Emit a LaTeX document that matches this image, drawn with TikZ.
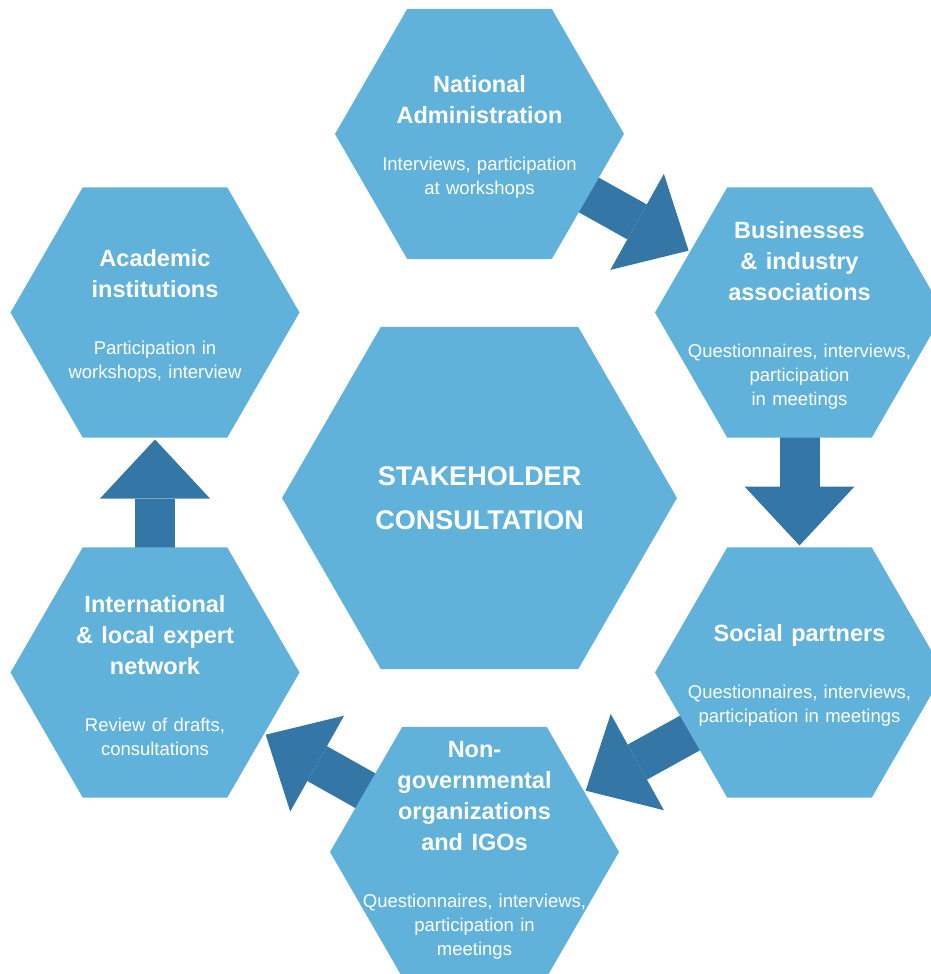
\documentclass[tikz,border=0pt]{standalone}
\usepackage{fontspec}
\setmainfont{Liberation Sans}
\usetikzlibrary{shapes.geometric,arrows.meta,backgrounds}
\definecolor{hexblue}{RGB}{97,178,218}
\definecolor{arrowblue}{RGB}{52,118,166}
\newcommand{\hd}{\fontsize{23.5}{31}\selectfont\bfseries\spaceskip=.36em}
\newcommand{\bd}[2][33pt]{\par\vskip#1\fontsize{18.5}{24}\selectfont\mdseries\spaceskip=.34em #2\par}
\tikzset{
	hex/.style={regular polygon,regular polygon sides=6,fill=hexblue,minimum size=289pt,inner sep=0pt,outer sep=0pt},
	txt/.style={text=white,align=center,text width=260pt,inner sep=0pt},
	lbl/.style={txt,yshift=-3pt},
	flow/.style={arrowblue,line width=40pt,-{Triangle[length=59pt,width=110pt,line width=0pt]},shorten >=127pt}
}
\begin{document}
\begin{tikzpicture}[x=1pt,y=-1pt]
		\useasboundingbox (0,0) rectangle (931,974);
		\clip (0,0) rectangle (931,974);
		\node[hex] (nat) at (479.5,134) {};
		\node[hex] (bus) at (799.5,312.5) {};
		\node[hex] (soc) at (799.5,672.5) {};
		\node[hex] (ngo) at (474.5,852) {};
		\node[hex] (exp) at (155,672.5) {};
		\node[hex] (acad) at (155,312.5) {};
		\node[hex,minimum size=395pt] (core) at (479.5,498) {};
		\node[txt,font=\fontsize{27}{44}\selectfont\bfseries] (core-t) at (core.center) {STAKEHOLDER\\CONSULTATION\par};
		\node[lbl] (nat-t) at (nat.center) {\hd National\\Administration\bd[23pt]{Interviews, participation\\at workshops}};
		\node[lbl] (bus-t) at (bus.center) {\hd Businesses\\\& industry\\associations\bd{Questionnaires, interviews,\\participation\\in meetings}};
		\node[lbl] (soc-t) at (soc.center) {\hd Social partners\bd{Questionnaires, interviews,\\participation in meetings}};
		\node[lbl] (ngo-t) at ([yshift=4.5pt]ngo.center) {\hd Non-\\governmental\\organizations\\and IGOs\bd{Questionnaires, interviews,\\participation in\\meetings}};
		\node[lbl] (exp-t) at (exp.center) {\hd International\\\& local expert\\network\bd{Review of drafts,\\consultations}};
		\node[lbl] (acad-t) at (acad.center) {\hd Academic\\institutions\bd{Participation in\\workshops, interview}};
		\begin{scope}[on background layer]
		\draw[flow] (nat.center) -- (bus.center);
		\draw[flow] (bus.center) -- (soc.center);
		\draw[flow] (soc.center) -- (ngo.center);
		\draw[flow] (ngo.center) -- (exp.center);
		\draw[flow] (exp.center) -- (acad.center);
		\end{scope}
\end{tikzpicture}
\end{document}
